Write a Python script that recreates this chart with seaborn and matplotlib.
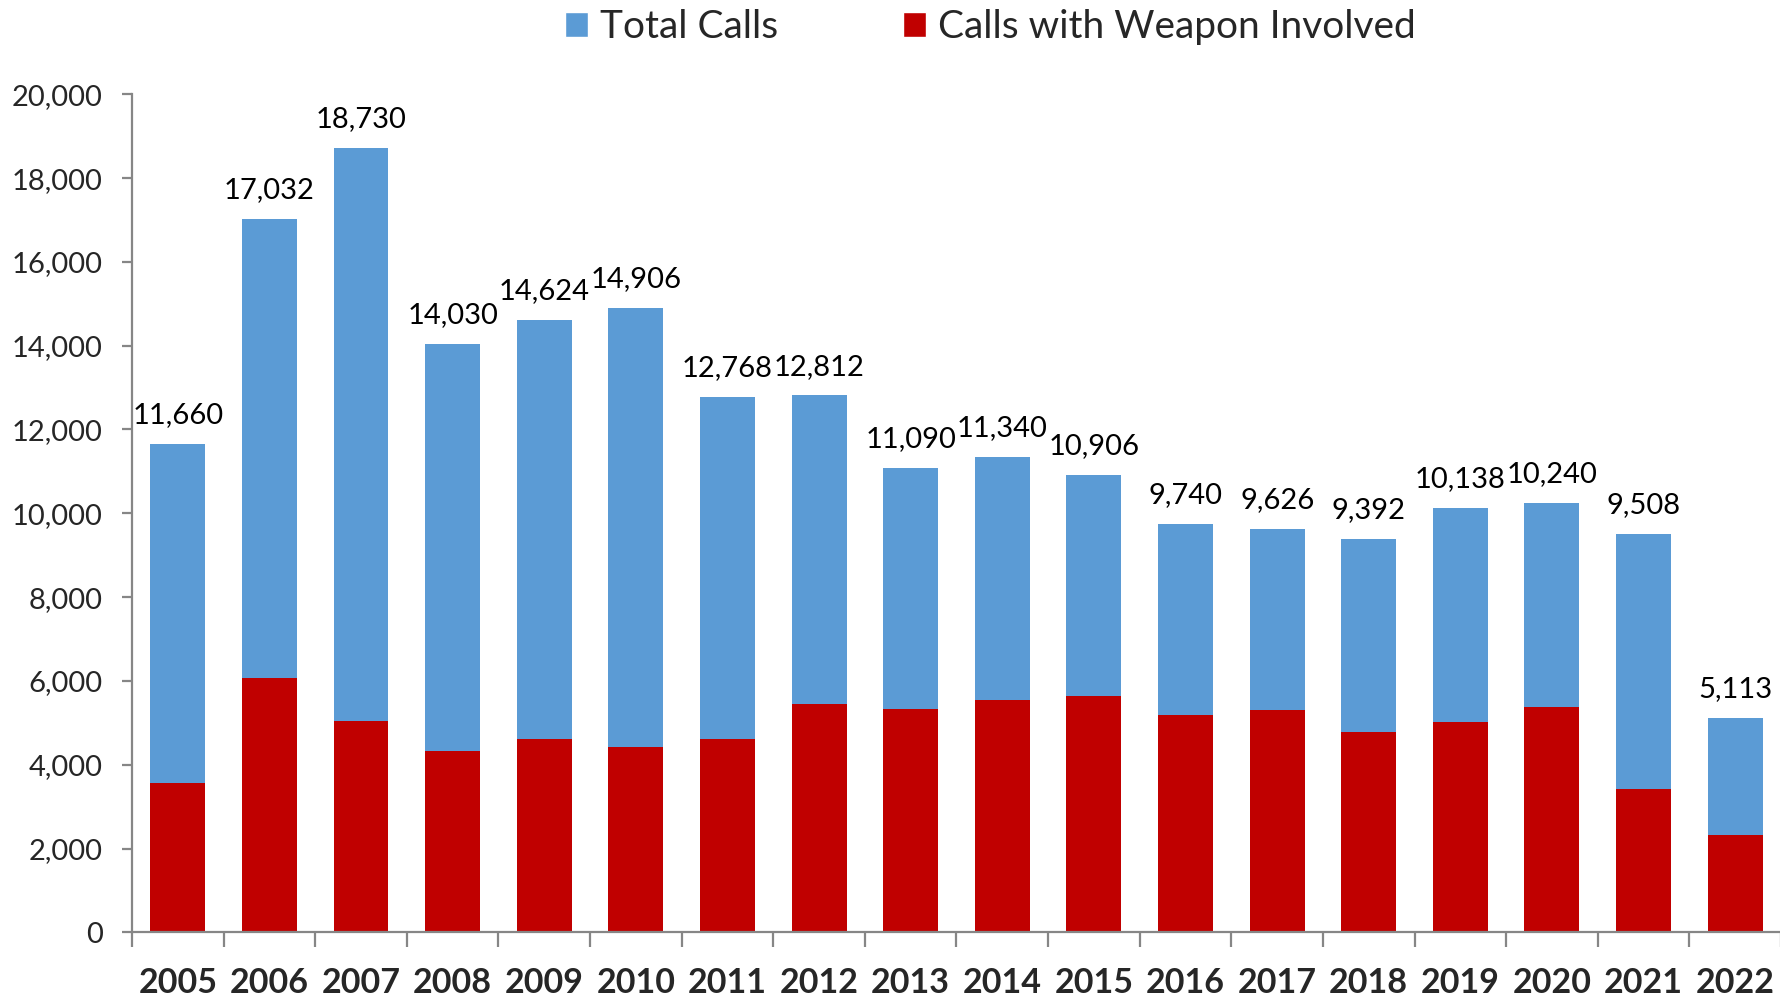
import pandas as pd
import numpy as np
import matplotlib.pyplot as plt
from matplotlib.patches import Patch
from matplotlib.ticker import FuncFormatter
import seaborn as sns

# Dados
anos = ['2005', '2006', '2007', '2008', '2009', '2010', '2011', '2012', '2013',
        '2014', '2015', '2016', '2017', '2018', '2019', '2020', '2021', '2022']
total_calls = [11660, 17032, 18730, 14030, 14624, 14906, 12768, 12812, 11090,
               11340, 10906, 9740, 9626, 9392, 10138, 10240, 9508, 5113]
weapon_calls = [3560, 6060, 5045, 4325, 4620, 4415, 4620, 5440, 5340,
                5535, 5650, 5195, 5300, 4775, 5030, 5370, 3415, 2330]

df = pd.DataFrame({'Ano': anos, 'Total': total_calls, 'Arma': weapon_calls})

AZUL = '#5B9BD5'
VERMELHO = '#C00000'
CINZA = '#868686'

sns.set_style('white')
plt.rcParams['font.family'] = ['Lato', 'DejaVu Sans']

fig = plt.figure(figsize=(17.81, 10), dpi=100)
ax = fig.add_axes([0.0741, 0.0677, 0.9259, 0.838])

sns.barplot(data=df, x='Ano', y='Total', color=AZUL, width=0.6,
            saturation=1, ax=ax, linewidth=0)
sns.barplot(data=df, x='Ano', y='Arma', color=VERMELHO, width=0.6,
            saturation=1, ax=ax, linewidth=0)

# Rótulos dos totais
for i, v in enumerate(total_calls):
    ax.text(i, v + 380, f'{v:,}', ha='center', va='bottom', fontsize=21,
            color='black')

ax.set_xlim(-0.5, len(anos) - 0.5)
ax.set_ylim(0, 20000)
ax.set_yticks(np.arange(0, 20001, 2000))
ax.yaxis.set_major_formatter(FuncFormatter(lambda x, p: f'{int(x):,}'))
ax.set_xlabel('')
ax.set_ylabel('')

# Eixos
for lado in ['top', 'right']:
    ax.spines[lado].set_visible(False)
for lado in ['left', 'bottom']:
    ax.spines[lado].set_color(CINZA)
    ax.spines[lado].set_linewidth(1.6)

ax.tick_params(axis='y', which='major', left=True, length=7, width=1.6,
               color=CINZA, labelsize=21, pad=14)
ax.tick_params(axis='x', which='major', bottom=False, length=0, pad=25,
               labelsize=24.5)
for lbl in ax.get_xticklabels():
    lbl.set_fontweight('bold')
ax.set_xticks(np.arange(-0.5, len(anos), 1), minor=True)
ax.tick_params(axis='x', which='minor', bottom=True, length=11, width=1.6,
               color=CINZA)

# Legenda
handles = [Patch(facecolor=AZUL, label='Total Calls'),
           Patch(facecolor=VERMELHO, label='Calls with Weapon Involved')]
fig.legend(handles=handles, loc='center', bbox_to_anchor=(0.556, 0.973),
           ncol=2, frameon=False, fontsize=28, handlelength=0.6,
           handleheight=0.6, handletextpad=0.3, columnspacing=3.2)

fig.savefig('out.png', dpi=100)
plt.close(fig)
